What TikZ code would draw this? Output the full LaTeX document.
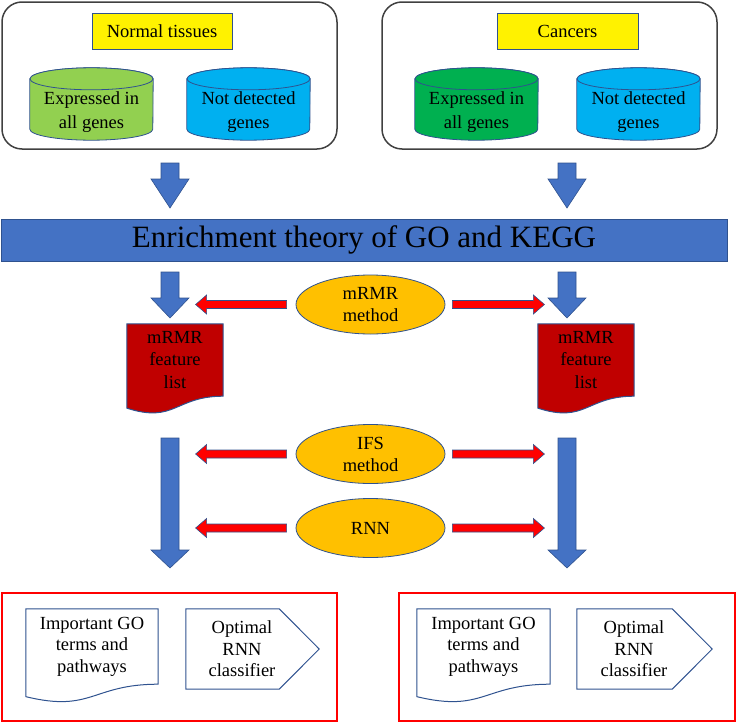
\documentclass[tikz,border=0pt]{standalone}
\usepackage{fontspec}
\setmainfont{Liberation Serif}
\usetikzlibrary{calc,shapes.geometric,backgrounds}
\definecolor{arrowblue}{HTML}{4472C4}
\definecolor{edgeblue}{HTML}{2F528F}
\definecolor{lightgreen}{HTML}{92D050}
\definecolor{darkgreen}{HTML}{00B050}
\definecolor{skyblue}{HTML}{00B0F0}
\definecolor{gold}{HTML}{FFC000}
\definecolor{darkred}{HTML}{C00000}
\definecolor{framegray}{HTML}{404040}
\tikzset{
    every node/.style={align=center,inner sep=0pt,font=\fontsize{18.5}{24}\selectfont},
    groupbox/.style={rectangle,rounded corners=20pt,draw=framegray,line width=1.5pt},
    resultbox/.style={rectangle,draw=red,line width=1.2pt},
    tag/.style={rectangle,fill=yellow,draw=edgeblue,line width=0.8pt,minimum height=36pt},
    db/.style={rectangle,minimum width=123pt,minimum height=56pt},
    dbline/.style={draw=edgeblue,line width=0.8pt},
    method/.style={ellipse,fill=gold,draw=edgeblue,line width=0.8pt,minimum width=149pt,
        minimum height=59pt,font=\fontsize{18.5}{22}\selectfont},
    banner/.style={rectangle,fill=arrowblue,draw=edgeblue,line width=0.8pt,minimum width=726pt,
        minimum height=42pt,font=\fontsize{31}{36}\selectfont},
    listdoc/.style={minimum width=96pt,minimum height=72pt,font=\fontsize{18.5}{22.5}\selectfont},
    resdoc/.style={minimum height=75pt,font=\fontsize{18.5}{21.5}\selectfont},
    plate/.style={draw=edgeblue,line width=1pt},
    blockarrow/.style args={#1/#2/#3}{to path={let \p1=(\tikztostart), \p2=(\tikztotarget),
        \p3=($(\p2)!#3!(\p1)$) in
        ($(\p1)!#1!90:(\p2)$) -- ($(\p3)!#1!90:(\p2)$) -- ($(\p3)!#2!90:(\p2)$) -- (\p2)
        -- ($(\p3)!#2!-90:(\p2)$) -- ($(\p3)!#1!-90:(\p2)$) -- ($(\p1)!#1!-90:(\p2)$) -- cycle}},
    bluearrow/.style={fill=arrowblue,draw=edgeblue,line width=0.6pt,blockarrow=9pt/19pt/#1},
    redarrow/.style={fill=red,draw=edgeblue,line width=0.6pt,blockarrow=4pt/9.5pt/11pt},
}
% cylinder outline round a text node
\newcommand{\dboutline}[2]{%
    \draw[dbline,fill=#2] ([yshift=5pt]#1.north west) -- ([yshift=11pt]#1.south west)
        arc[start angle=180,end angle=360,x radius=61.5pt,y radius=11pt]
        -- ([yshift=5pt]#1.north east)
        arc[start angle=0,end angle=180,x radius=61.5pt,y radius=11pt] -- cycle;
    \draw[dbline,fill=#2] ([yshift=5pt]#1.north) ellipse[x radius=61.5pt,y radius=11pt];}
% document outline with a wavy bottom
\newcommand{\docoutline}[2]{%
    \draw[#2] (#1.north west) -- (#1.north east) -- (#1.south east)
        .. controls (#1.south) and ($(#1.north)!1.38!(#1.south)$)
        .. ($(#1.north west)!1.165!(#1.south west)$) -- cycle;}
% pointed plate outline
\newcommand{\plateoutline}[1]{%
    \draw[plate] (#1.north west) -- ([xshift=-19pt]#1.north east) -- ([xshift=21pt]#1.east)
        -- ([xshift=-19pt]#1.south east) -- (#1.south west) -- cycle;}
\begin{document}
\begin{tikzpicture}[x=1pt,y=-1pt]
    \useasboundingbox (0,0) rectangle (737,723);

    % sample groups
    \draw[groupbox] (2,2) rectangle (337,149);
    \draw[groupbox] (382,2) rectangle (717,149);
    \node[tag,minimum width=140pt] (normlab) at (162,31) {Normal tissues};
    \node[tag,minimum width=141pt] (canclab) at (567.5,31) {Cancers};
    \node[db] (nexp) at (91.5,112) {Expressed in\\all genes};
    \node[db] (nnd) at (248.5,112) {Not detected\\genes};
    \node[db] (cexp) at (476.5,112) {Expressed in\\all genes};
    \node[db] (cnd) at (638.5,112) {Not detected\\genes};

    \node[banner] (enrich) at (364,240) {Enrichment theory of GO and KEGG};

    % methods
    \node[method] (mrmr) at (370.5,304.5) {mRMR\\method};
    \node[method] (ifs) at (370.5,454) {IFS\\method};
    \node[method] (rnn) at (370.5,528) {RNN};

    \node[listdoc] (nlist) at (175,360) {mRMR\\feature\\list};
    \node[listdoc] (clist) at (586,360) {mRMR\\feature\\list};

    % results
    \draw[resultbox] (2,593) rectangle (337,721);
    \draw[resultbox] (399,593) rectangle (735,721);
    \node[resdoc,minimum width=132pt] (nterms) at (92,646.5) {Important GO\\terms and\\pathways};
    \node[resdoc,minimum width=133pt] (cterms) at (483.5,646.5) {Important GO\\terms and\\pathways};
    \node[resdoc,minimum width=112pt,minimum height=80pt] (nclf) at (242,649) {Optimal\\RNN\\classifier};
    \node[resdoc,minimum width=114pt,minimum height=80pt] (cclf) at (634,649) {Optimal\\RNN\\classifier};

    \begin{scope}[on background layer]
        \dboutline{nexp}{lightgreen}
        \dboutline{nnd}{skyblue}
        \dboutline{cexp}{darkgreen}
        \dboutline{cnd}{skyblue}
        \docoutline{nlist}{fill=darkred,draw=edgeblue,line width=1pt}
        \docoutline{clist}{fill=darkred,draw=edgeblue,line width=1pt}
        \docoutline{nterms}{fill=white,draw=edgeblue,line width=1pt}
        \docoutline{cterms}{fill=white,draw=edgeblue,line width=1pt}
    \end{scope}
    \plateoutline{nclf}
    \plateoutline{cclf}

    % flow arrows
    \coordinate (nt1) at (170,163);
    \coordinate (nt2) at (170,208);
    \coordinate (ct1) at (567,163);
    \coordinate (ct2) at (567,208);
    \coordinate (nm1) at (170,272);
    \coordinate (nm2) at (170,318);
    \coordinate (cm1) at (567,272);
    \coordinate (cm2) at (567,318);
    \coordinate (nb1) at (170,438);
    \coordinate (nb2) at (170,568);
    \coordinate (cb1) at (567,438);
    \coordinate (cb2) at (567,568);
    \draw[bluearrow=29pt] (nt1) to (nt2);
    \draw[bluearrow=29pt] (ct1) to (ct2);
    \draw[bluearrow=20pt] (nm1) to (nm2);
    \draw[bluearrow=20pt] (cm1) to (cm2);
    \draw[bluearrow=18pt] (nb1) to (nb2);
    \draw[bluearrow=18pt] (cb1) to (cb2);

    \draw[redarrow] ([xshift=-9pt]mrmr.west) to ([xshift=-100pt]mrmr.west);
    \draw[redarrow] ([xshift=7pt]mrmr.east) to ([xshift=99pt]mrmr.east);
    \draw[redarrow] ([xshift=-9pt]ifs.west) to ([xshift=-100pt]ifs.west);
    \draw[redarrow] ([xshift=7pt]ifs.east) to ([xshift=99pt]ifs.east);
    \draw[redarrow] ([xshift=-9pt]rnn.west) to ([xshift=-100pt]rnn.west);
    \draw[redarrow] ([xshift=7pt]rnn.east) to ([xshift=99pt]rnn.east);
\end{tikzpicture}
\end{document}
